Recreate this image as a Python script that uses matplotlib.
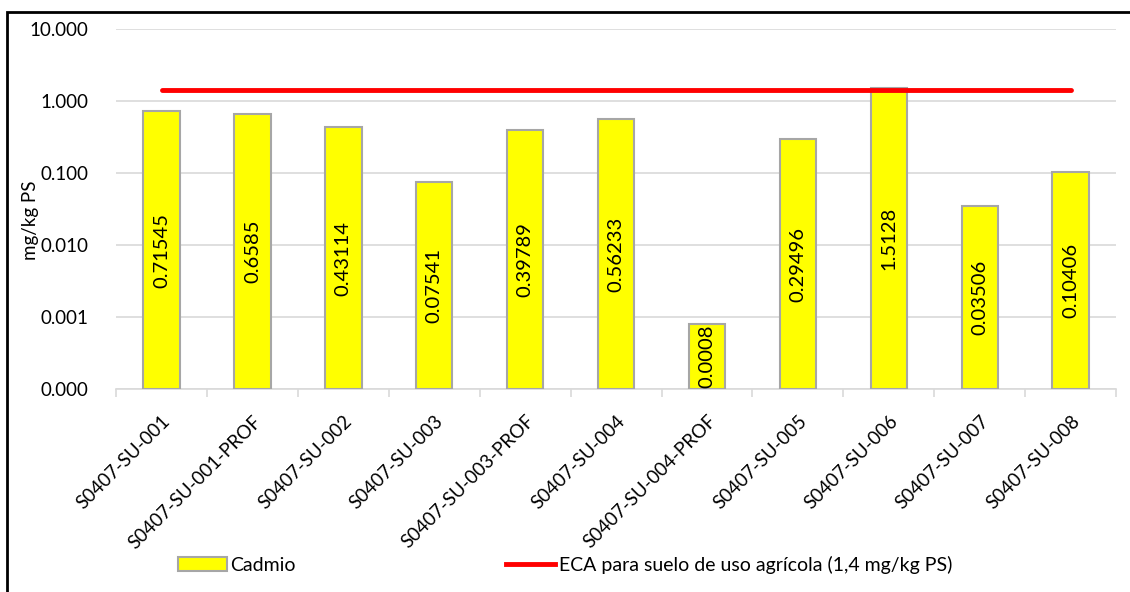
import matplotlib.pyplot as plt
import matplotlib.patches as mpatches
from matplotlib.lines import Line2D
import numpy as np

plt.rcParams['font.family'] = ['Lato', 'DejaVu Sans']

# muestras y concentraciones de cadmio (mg/kg PS)
samples = ["S0407-SU-001", "S0407-SU-001-PROF", "S0407-SU-002", "S0407-SU-003",
           "S0407-SU-003-PROF", "S0407-SU-004", "S0407-SU-004-PROF", "S0407-SU-005",
           "S0407-SU-006", "S0407-SU-007", "S0407-SU-008"]
cadmio = [0.71545, 0.6585, 0.43114, 0.07541, 0.39789, 0.56233, 0.0008,
          0.29496, 1.5128, 0.03506, 0.10406]
label_txt = ["0.71545", "0.6585", "0.43114", "0.07541", "0.39789", "0.56233", "0.0008",
             "0.29496", "1.5128", "0.03506", "0.10406"]
eca = [1.4] * len(samples)

ymin, ymax = 1e-4, 10

fig = plt.figure(figsize=(11.3, 5.92), dpi=100)
ax = fig.add_axes([0.1027, 0.343, 0.885, 0.608])

x = np.arange(len(samples))
ax.bar(x, np.array(cadmio) - ymin, bottom=ymin, width=0.4, color='#ffff00',
       edgecolor='#a6a6a6', linewidth=1.5, zorder=3)
ax.plot(x, eca, color='#ff0000', lw=3.5, solid_capstyle='round', zorder=4)

# etiquetas de valor centradas en la barra (centro en escala log)
for xi, v, t in zip(x, cadmio, label_txt):
    ax.text(xi, np.sqrt(v * ymin), t, rotation=90, ha='center', va='center',
            fontsize=14.5, zorder=5)

ax.set_yscale('log')
ax.set_ylim(ymin, ymax)
ax.set_xlim(-0.5, len(samples) - 0.5)
yt = [1e-4, 1e-3, 1e-2, 1e-1, 1, 10]
ax.set_yticks(yt)
ax.set_yticklabels(['%.3f' % t for t in yt], fontsize=13.5)
ax.yaxis.set_minor_locator(plt.NullLocator())
ax.tick_params(axis='y', length=0, pad=20)
ax.grid(axis='y', color='#d9d9d9', lw=1.2, zorder=0)

ax.set_xticks(x)
ax.set_xticklabels(samples, rotation=45, ha='right', rotation_mode='anchor', fontsize=13.5)
ax.set_xticks(np.arange(len(samples) + 1) - 0.5, minor=True)
ax.tick_params(axis='x', which='major', length=0, pad=17)
ax.tick_params(axis='x', which='minor', length=6, color='#d9d9d9', width=1.2)

for s in ['left', 'right', 'top']:
    ax.spines[s].set_visible(False)
ax.spines['bottom'].set_color('#d9d9d9')
ax.spines['bottom'].set_linewidth(1.2)

ax.set_ylabel('mg/kg PS', fontsize=13.5)
ax.yaxis.set_label_coords(-0.077, 0.47)

handles = [mpatches.Patch(facecolor='#ffff00', edgecolor='#a6a6a6', linewidth=1.5),
           Line2D([0], [0], color='#ff0000', lw=3.5)]
fig.legend(handles, ['Cadmio', 'ECA para suelo de uso agrícola (1,4 mg/kg PS)'],
           loc='center', bbox_to_anchor=(565 / 1130, 1 - 565 / 592), ncol=2, frameon=False,
           fontsize=14, columnspacing=10.8, handlelength=2.5, handletextpad=0.2)

# marco exterior
fig.add_artist(mpatches.Rectangle((7 / 1130, -0.05), 1.2, 1 - 11.5 / 592 + 0.05,
                                  transform=fig.transFigure, fill=False,
                                  edgecolor='black', lw=2))

fig.savefig('out.png', dpi=100)
